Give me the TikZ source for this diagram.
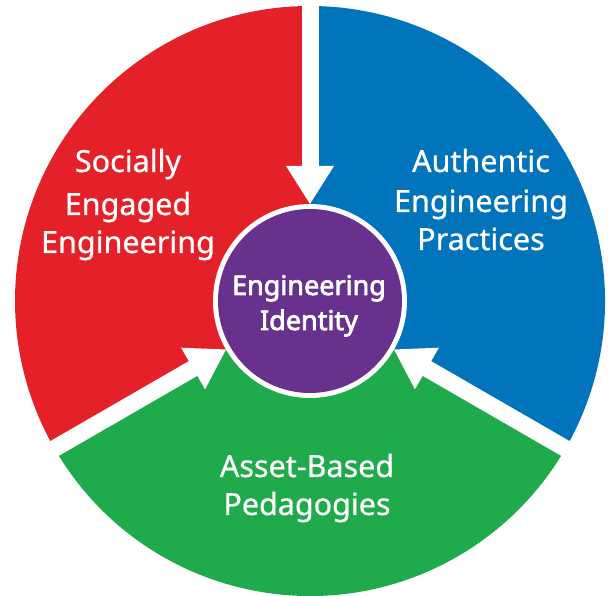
\documentclass[tikz,border=0pt]{standalone}
\usepackage{fontspec}
\setmainfont{Noto Sans}
\newfontfamily\labelfont{Noto Sans}[FakeBold=0.7]
\newfontfamily\hubfont{Noto Sans}[FakeBold=2.8]
\usetikzlibrary{calc}
\definecolor{segred}{HTML}{E42129}
\definecolor{segblue}{HTML}{0174BB}
\definecolor{seggreen}{HTML}{1FAA4B}
\definecolor{hubpurple}{HTML}{68318E}
\begin{document}
\begin{tikzpicture}[x=1pt,y=1pt,
  outer/.style={font=\labelfont\fontsize{30.5}{34}\selectfont, text=white, inner sep=0pt, anchor=base},
  hubtext/.style={font=\hubfont\fontsize{27}{30}\selectfont, text=white, inner sep=0pt, anchor=base},
  band/.style={white, line width=17pt}]
\useasboundingbox (0,0) rectangle (608,596);
\def\R{295}
\coordinate (c) at (310,295);
% coloured sectors
\fill[segred]   (c) -- ++(90:\R)  arc[start angle=90,  end angle=210, radius=\R] -- cycle;
\fill[seggreen] (c) -- ++(210:\R) arc[start angle=210, end angle=330, radius=\R] -- cycle;
\fill[segblue]  (c) -- ++(330:\R) arc[start angle=330, end angle=450, radius=\R] -- cycle;
% white arrows pointing to the hub
\foreach \a in {90,210,330}{
  \draw[band] ($(c)+(\a:130)$) -- ($(c)+(\a:\R+6)$);
  \fill[white] ($(c)+(\a:97)$) -- ($(c)+(\a:135)+(\a+90:24)$) -- ($(c)+(\a:135)+(\a-90:24)$) -- cycle;
}
% hub
\fill[white] (c) circle[radius=97];
\node[circle, fill=hubpurple, minimum size=184pt, inner sep=0pt] (hub) at (c) {};
\node[hubtext] (h1) at (309,301) {Engineering};
\node[hubtext] (h2) at (309,266) {Identity};
% sector labels
\node[outer] (s1) at (128,424) {Socially};
\node[outer] (s2) at (128,381) {Engaged};
\node[outer] (s3) at (128,343) {Engineering};
\node[outer] (a1) at (481,424) {Authentic};
\node[outer] (a2) at (481,384) {Engineering};
\node[outer] (a3) at (481,346) {Practices};
\node[outer] (b1) at (307,119) {Asset-Based};
\node[outer] (b2) at (307,81)  {Pedagogies};
\end{tikzpicture}
\end{document}
